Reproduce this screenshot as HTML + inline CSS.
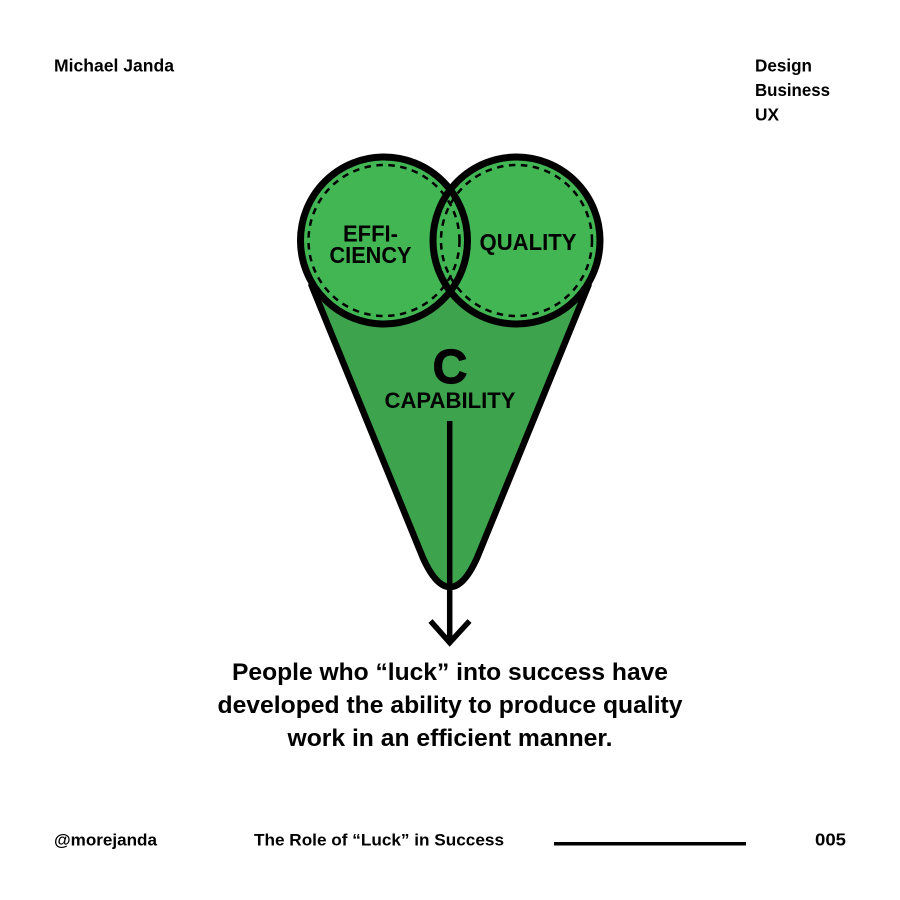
<!DOCTYPE html>
<html>
<head>
<meta charset="utf-8">
<style>
html,body{margin:0;padding:0;background:#fff;}
body{width:900px;height:900px;overflow:hidden;}
svg{display:block;}
text{font-family:"Liberation Sans",Arial,sans-serif;font-weight:700;fill:#000;}
</style>
</head>
<body>
<svg width="900" height="900" viewBox="0 0 900 900" xmlns="http://www.w3.org/2000/svg">
<rect width="900" height="900" fill="#fff"/>
<text x="54" y="71.500" font-size="17.500" textLength="120" lengthAdjust="spacingAndGlyphs">Michael Janda</text>
<text x="755" y="71.500" font-size="17.500" textLength="57" lengthAdjust="spacingAndGlyphs">Design</text>
<text x="755" y="96" font-size="17.500" textLength="75" lengthAdjust="spacingAndGlyphs">Business</text>
<text x="755" y="120.500" font-size="17.500" textLength="24" lengthAdjust="spacingAndGlyphs">UX</text>

<path d="M311.500 285 L423 558 C432 578 441 587 450 587 C459 587 468 578 477 558 L588.500 285 L450 240 Z" fill="#3da44d" stroke="#000" stroke-width="6.500" stroke-linejoin="round"/>
<circle cx="384" cy="240.500" r="83.500" fill="#43b654"/>
<circle cx="516.500" cy="240.500" r="83.500" fill="#43b654"/>
<circle cx="516.500" cy="240.500" r="83.500" fill="none" stroke="#000" stroke-width="7"/>
<circle cx="384" cy="240.500" r="83.500" fill="none" stroke="#000" stroke-width="7"/>
<circle cx="384" cy="240.500" r="75.500" fill="none" stroke="#000" stroke-width="2.500" stroke-dasharray="6.500 5.500"/>
<circle cx="516.500" cy="240.500" r="75.500" fill="none" stroke="#000" stroke-width="2.500" stroke-dasharray="6.500 5.500"/>

<text x="370.500" y="241.500" font-size="23" text-anchor="middle" textLength="55" lengthAdjust="spacingAndGlyphs">EFFI-</text>
<text x="370.500" y="263" font-size="23" text-anchor="middle" textLength="82" lengthAdjust="spacingAndGlyphs">CIENCY</text>
<text x="528" y="250" font-size="23" text-anchor="middle" textLength="97" lengthAdjust="spacingAndGlyphs">QUALITY</text>
<text x="450" y="383" font-size="48" text-anchor="middle" stroke="#000" stroke-width="1.200">C</text>
<text x="450" y="408" font-size="22.500" text-anchor="middle" textLength="131" lengthAdjust="spacingAndGlyphs">CAPABILITY</text>

<line x1="449.700" y1="421" x2="449.700" y2="642" stroke="#000" stroke-width="5.500"/>
<path d="M430.500 621 L449.700 642.600 L469.500 621" fill="none" stroke="#000" stroke-width="5.500"/>

<text x="450" y="680" font-size="24" text-anchor="middle" textLength="436" lengthAdjust="spacingAndGlyphs">People who “luck” into success have</text>
<text x="450" y="713" font-size="24" text-anchor="middle" textLength="465" lengthAdjust="spacingAndGlyphs">developed the ability to produce quality</text>
<text x="450" y="746" font-size="24" text-anchor="middle" textLength="325" lengthAdjust="spacingAndGlyphs">work in an efficient manner.</text>

<text x="54" y="845.500" font-size="17" textLength="103" lengthAdjust="spacingAndGlyphs">@morejanda</text>
<text x="254" y="845.500" font-size="17" textLength="250" lengthAdjust="spacingAndGlyphs">The Role of “Luck” in Success</text>
<rect x="554" y="842" width="192" height="3.500" fill="#000"/>
<text x="815" y="845.500" font-size="17.500" textLength="31" lengthAdjust="spacingAndGlyphs">005</text>
</svg>
</body>
</html>
